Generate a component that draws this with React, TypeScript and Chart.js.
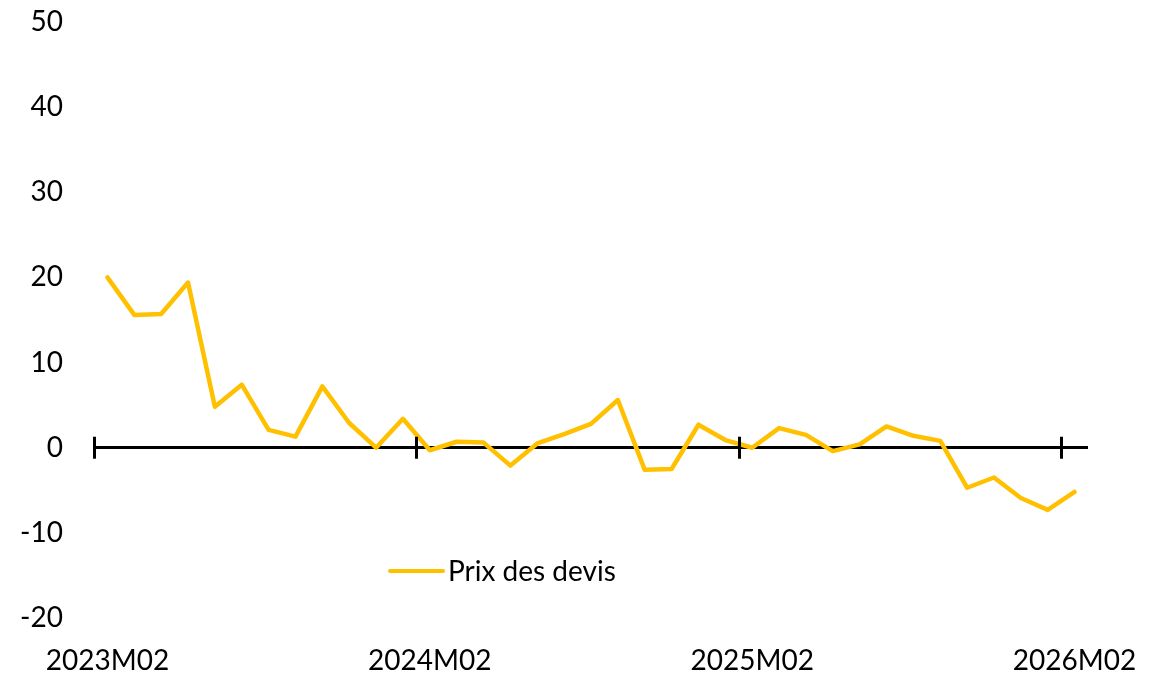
import React, { useEffect, useRef } from "react";
import { Chart, registerables } from "chart.js";

Chart.register(...registerables);

const categories: string[] = [
  "2023M02", "2023M03", "2023M04", "2023M05", "2023M06", "2023M07", "2023M08", "2023M09", "2023M10", "2023M11", "2023M12", "2024M01",
  "2024M02", "2024M03", "2024M04", "2024M05", "2024M06", "2024M07", "2024M08", "2024M09", "2024M10", "2024M11", "2024M12", "2025M01",
  "2025M02", "2025M03", "2025M04", "2025M05", "2025M06", "2025M07", "2025M08", "2025M09", "2025M10", "2025M11", "2025M12", "2026M01",
  "2026M02",
];

const prixDesDevis: number[] = [
  20.0, 15.6, 15.7, 19.4, 4.8, 7.4, 2.1, 1.3, 7.2, 2.9, 0.0, 3.4,
  -0.3, 0.7, 0.6, -2.1, 0.5, 1.6, 2.8, 5.6, -2.6, -2.5, 2.7, 0.9,
  0.0, 2.3, 1.5, -0.4, 0.4, 2.5, 1.4, 0.8, -4.7, -3.5, -5.9, -7.3,
  -5.2,
];

const seriesLabel = "Prix des devis";
const yMin = -20;
const yMax = 50;
const yStep = 10;

const FONT = "Lato";
const FONT_SIZE = 28;
const GOLD = "#FFC000";

export default function App() {
  const ref = useRef<HTMLCanvasElement | null>(null);

  useEffect(() => {
    document.body.style.margin = "0";
    const canvas = ref.current;
    if (!canvas) return;

    const overlay = {
      id: "overlay",
      afterDraw(chart: any) {
        const ctx = chart.ctx;
        const x = chart.scales.x;
        const y = chart.scales.y;
        const y0 = y.getPixelForValue(0);
        ctx.save();
        ctx.strokeStyle = "#000000";
        ctx.lineWidth = 3;
        ctx.lineCap = "butt";
        const half = (x.getPixelForValue(1) - x.getPixelForValue(0)) / 2;
        for (let i = 0; i < categories.length; i += 12) {
          const px = Math.round(x.getPixelForValue(i) - half) + 0.5;
          ctx.beginPath();
          ctx.moveTo(px, y0 - 11);
          ctx.lineTo(px, y0 + 11);
          ctx.stroke();
        }
        // legend
        const ca = chart.chartArea;
        const ly = ca.bottom - 47;
        const lx = ca.left + 296;
        ctx.strokeStyle = GOLD;
        ctx.lineWidth = 4;
        ctx.lineCap = "round";
        ctx.beginPath();
        ctx.moveTo(lx, ly);
        ctx.lineTo(lx + 53, ly);
        ctx.stroke();
        ctx.fillStyle = "#000000";
        ctx.font = `${FONT_SIZE}px ${FONT}`;
        ctx.textAlign = "left";
        ctx.textBaseline = "middle";
        ctx.fillText(seriesLabel, lx + 58, ly + 1);
        ctx.restore();
      },
    };

    const chart = new Chart(canvas, {
      type: "line",
      data: {
        labels: categories,
        datasets: [
          {
            label: seriesLabel,
            data: prixDesDevis,
            borderColor: GOLD,
            backgroundColor: GOLD,
            borderWidth: 4.5,
            pointRadius: 0,
            tension: 0,
            borderJoinStyle: "round",
            borderCapStyle: "round",
          },
        ],
      },
      options: {
        animation: false,
        responsive: false,
        maintainAspectRatio: false,
        layout: { padding: { top: 22, right: 78, bottom: 0, left: 0 } },
        plugins: {
          legend: { display: false },
          tooltip: { enabled: false },
        },
        scales: {
          x: {
            type: "category",
            offset: true,
            grid: { display: false, drawTicks: false },
            border: { display: false },
            ticks: {
              autoSkip: false,
              maxRotation: 0,
              minRotation: 0,
              padding: 26,
              color: "#000000",
              font: { family: FONT, size: FONT_SIZE },
              callback: (_v: any, i: number) => (i % 12 === 0 ? categories[i] : ""),
            },
            afterFit: (s: any) => {
              s.height = 57;
            },
          },
          y: {
            min: yMin,
            max: yMax,
            grid: {
              drawTicks: true,
              tickLength: 31,
              tickColor: "rgba(0,0,0,0)",
              color: (c: any) => (c.tick && c.tick.value === 0 ? "#000000" : "rgba(0,0,0,0)"),
              lineWidth: (c: any) => (c.tick && c.tick.value === 0 ? 3 : 0),
            },
            border: { display: false },
            ticks: {
              stepSize: yStep,
              padding: 0,
              color: "#000000",
              font: { family: FONT, size: FONT_SIZE },
            },
            afterFit: (s: any) => {
              s.width = 94;
            },
          },
        },
      },
      plugins: [overlay],
    });

    return () => chart.destroy();
  }, []);

  return (
    <div style={{ position: "fixed", left: 0, top: 0, width: 1166, height: 675, background: "#ffffff" }}>
      <canvas ref={ref} width={1166} height={675} style={{ width: 1166, height: 675, display: "block" }} />
    </div>
  );
}
